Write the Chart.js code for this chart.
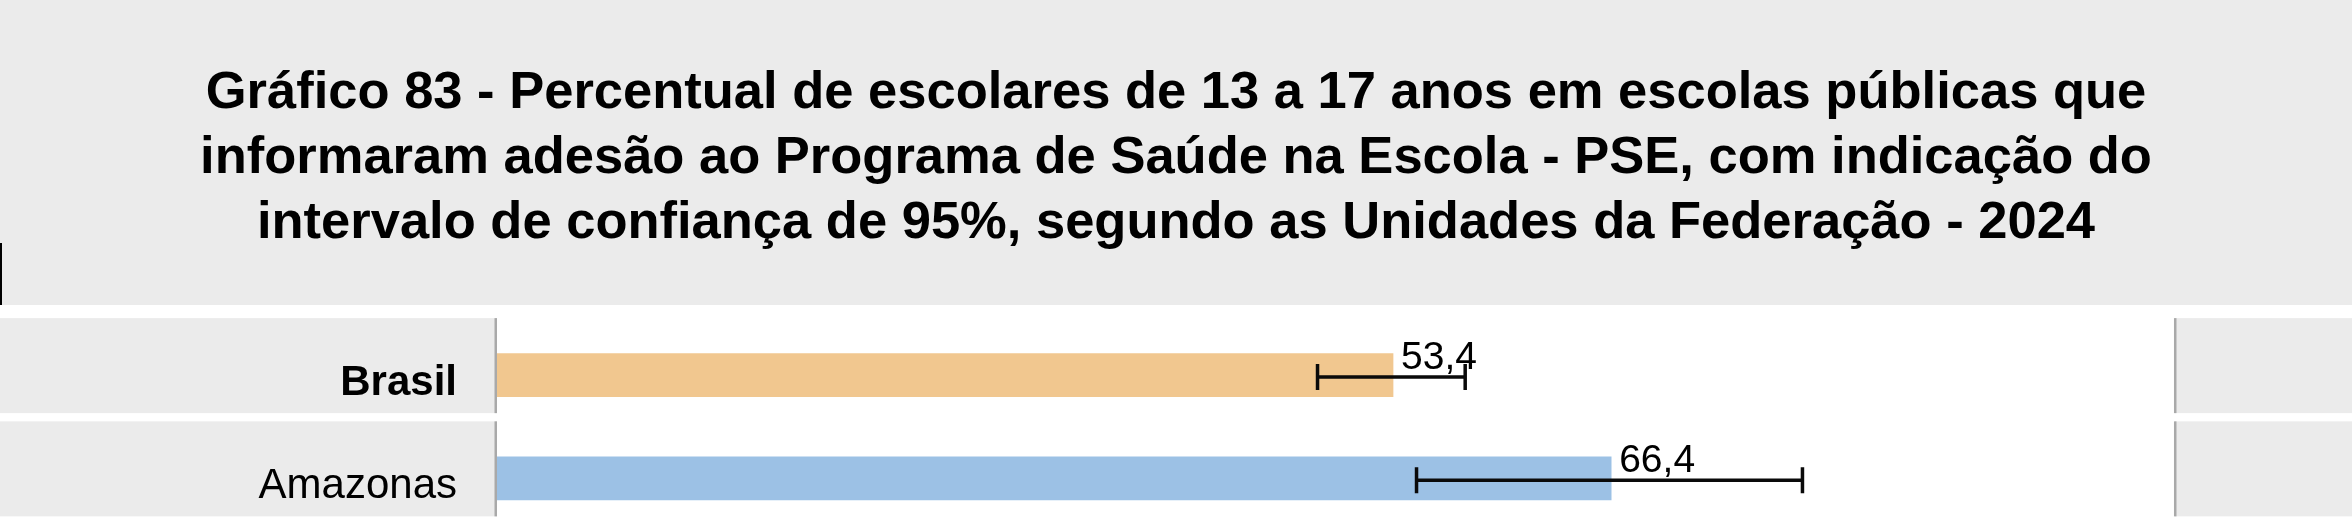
<html>
<head>
<meta charset="UTF-8" />
<title>Gráfico 83 - PSE</title>
<script src="https://cdn.jsdelivr.net/npm/chart.js"></script>
<style>
  body {
    margin: 0;
    padding: 0;
    background: #ffffff;
  }
  #chart {
    display: block;
  }
</style>
</head>
<body>
<canvas id="chart" width="2352" height="530"></canvas>

<script>
// dados
const categories = ["Brasil", "Amazonas"];
const values = [53.4, 66.4];
const ciLow = [48.9, 54.8];
const ciHigh = [57.7, 77.8];
const valueLabels = ["53,4", "66,4"];
const barColors = ["#f1c78f", "#9cc1e5"];
const titleLines = [
    "Gráfico 83 - Percentual de escolares de 13 a 17 anos em escolas públicas que",
    "informaram adesão ao Programa de Saúde na Escola - PSE, com indicação do",
    "intervalo de confiança de 95%, segundo as Unidades da Federação - 2024"
];
// o eixo vai de 0 a 100; o resto da largura fica para a caixa cinza da direita
const xMin = 0;
const xFull = 100;
const xMax = 110.55;

const FONT = "'Liberation Sans', Arial, sans-serif";
const GREY = "#ebebeb";

// fundo cinza do título e caixas dos rótulos
const backgroundPlugin = {
    id: "backgroundBoxes",
    beforeDraw(chart) {
        const ctx = chart.ctx;
        const area = chart.chartArea;
        const x = chart.scales.x;
        const y = chart.scales.y;
        const right = x.getPixelForValue(xFull);
        ctx.save();
        ctx.fillStyle = GREY;
        ctx.fillRect(0, 0, chart.width, 305);
        ctx.fillStyle = "#000000";
        ctx.fillRect(0, 243, 2, 62);

        for (let i = 0; i < categories.length; i++) {
            const c = y.getPixelForValue(i);
            const top = c - 57;
            const h = 95;
            ctx.fillStyle = GREY;
            ctx.fillRect(0, top, area.left, h);
            ctx.fillRect(right, top, chart.width - right, h);
            ctx.fillStyle = "#a9a9a9";
            ctx.fillRect(area.left - 2.5, top, 2.5, h);
            ctx.fillRect(right - 1, top, 2.5, h);
        }
        ctx.restore();
    }
};

// intervalo de confiança e valores
const errorBarPlugin = {
    id: "errorBars",
    afterDatasetsDraw(chart) {
        const ctx = chart.ctx;
        const x = chart.scales.x;
        const y = chart.scales.y;
        ctx.save();
        ctx.strokeStyle = "#0a0a0a";
        ctx.lineWidth = 3.5;
        for (let i = 0; i < values.length; i++) {
            const c = y.getPixelForValue(i) + 2;
            const x1 = x.getPixelForValue(ciLow[i]);
            const x2 = x.getPixelForValue(ciHigh[i]);
            ctx.beginPath();
            ctx.moveTo(x1, c);
            ctx.lineTo(x2, c);
            ctx.moveTo(x1, c - 13);
            ctx.lineTo(x1, c + 13);
            ctx.moveTo(x2, c - 13);
            ctx.lineTo(x2, c + 13);
            ctx.stroke();

            ctx.fillStyle = "#000000";
            ctx.font = "39px " + FONT;
            ctx.textAlign = "left";
            ctx.textBaseline = "alphabetic";
            ctx.fillText(valueLabels[i], x.getPixelForValue(values[i]) + 8, c - 8);
        }
        ctx.restore();
    }
};

const chartData = {
    labels: categories,
    datasets: [{
        data: values,
        backgroundColor: barColors,
        borderWidth: 0,
        barThickness: 43
    }]
};

new Chart(document.getElementById("chart"), {
    type: "bar",
    data: chartData,
    options: {
        indexAxis: "y",
        responsive: false,
        devicePixelRatio: 1,
        animation: false,
        layout: {
            padding: 0
        },
        scales: {
            x: {
                display: false,
                min: xMin,
                max: xMax
            },
            y: {
                grid: { display: false, drawTicks: false },
                border: { display: false },
                afterFit: (scale) => {
                    scale.width = 497;
                    // sem folga extra em cima e embaixo
                    scale.paddingTop = 0;
                    scale.paddingBottom = 0;
                },
                ticks: {
                    color: "#000000",
                    padding: 40,
                    labelOffset: 8,
                    font: (ctx) => ({
                        family: FONT,
                        size: 42,
                        weight: ctx.index === 0 ? "bold" : "normal"
                    })
                }
            }
        },
        plugins: {
            legend: { display: false },
            tooltip: { enabled: false },
            title: {
                display: true,
                text: titleLines,
                color: "#000000",
                font: { family: FONT, size: 52.5, weight: "bold", lineHeight: 1.238 },
                padding: { top: 61.5, bottom: 67 }
            }
        }
    },
    plugins: [backgroundPlugin, errorBarPlugin]
});
</script>
</body>
</html>
